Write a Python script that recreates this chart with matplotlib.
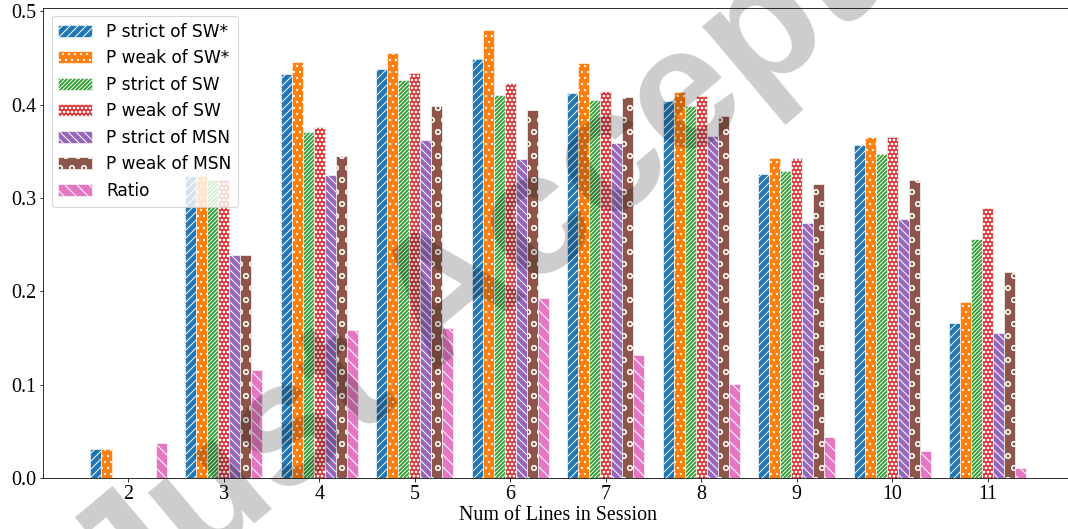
import matplotlib
matplotlib.use('Agg')
import matplotlib.pyplot as plt
import numpy as np

lines_in_session = [2, 3, 4, 5, 6, 7, 8, 9, 10, 11]

p_strict_sw_star = [0.031, 0.324, 0.433, 0.438, 0.449, 0.412, 0.404, 0.326, 0.357, 0.166]
p_weak_sw_star = [0.031, 0.324, 0.446, 0.455, 0.480, 0.445, 0.414, 0.343, 0.365, 0.188]
p_strict_sw = [0.0, 0.319, 0.371, 0.426, 0.410, 0.405, 0.398, 0.329, 0.347, 0.256]
p_weak_sw = [0.0, 0.319, 0.376, 0.434, 0.423, 0.415, 0.409, 0.343, 0.365, 0.289]
p_strict_msn = [0.0, 0.239, 0.325, 0.362, 0.342, 0.359, 0.366, 0.273, 0.277, 0.155]
p_weak_msn = [0.0, 0.239, 0.345, 0.399, 0.394, 0.408, 0.388, 0.315, 0.319, 0.221]
ratio = [0.038, 0.116, 0.159, 0.161, 0.193, 0.132, 0.101, 0.044, 0.029, 0.011]

series = [
    ("P strict of SW*", p_strict_sw_star, '///'),
    ("P weak of SW*", p_weak_sw_star, '..'),
    ("P strict of SW", p_strict_sw, '//////'),
    ("P weak of SW", p_weak_sw, 'ooo'),
    ("P strict of MSN", p_strict_msn, '\\\\\\'),
    ("P weak of MSN", p_weak_msn, 'o'),
    ("Ratio", ratio, '\\\\'),
]
colors = ['tab:blue', 'tab:orange', 'tab:green', 'tab:red', 'tab:purple', 'tab:brown', 'tab:pink']

DPI = 72
fig = plt.figure(figsize=(1068 / DPI, 529 / DPI), dpi=DPI)
ax = fig.add_axes([43 / 1068, 51 / 529, 1030 / 1068, 470.5 / 529])

x = np.array(lines_in_session)
width = 0.115
for i, (label, vals, hatch) in enumerate(series):
    ax.bar(x + (i - 3) * width, vals, width, label=label, color=colors[i],
           edgecolor='white', linewidth=0.6, hatch=hatch)

ax.set_xticks(x)
ax.set_xticklabels([str(v) for v in lines_in_session])
ax.set_yticks([0.0, 0.1, 0.2, 0.3, 0.4, 0.5])
for tl in ax.get_xticklabels() + ax.get_yticklabels():
    tl.set_fontfamily('Liberation Serif')
    tl.set_fontsize(20)
ax.set_xlabel("Num of Lines in Session", fontfamily='Liberation Serif', fontsize=20, labelpad=2)
ax.spines['right'].set_visible(False)

ax.legend(loc='upper left', prop={'family': 'DejaVu Sans', 'size': 17})

# watermark
fig.text(125 / 1068, 1 - 632 / 529, "Just Accepted", fontsize=175, family='Liberation Sans',
         fontweight='bold', color='black', alpha=0.2, rotation=40, rotation_mode='anchor',
         ha='left', va='baseline', zorder=10)

fig.savefig('out.png', dpi=DPI)
